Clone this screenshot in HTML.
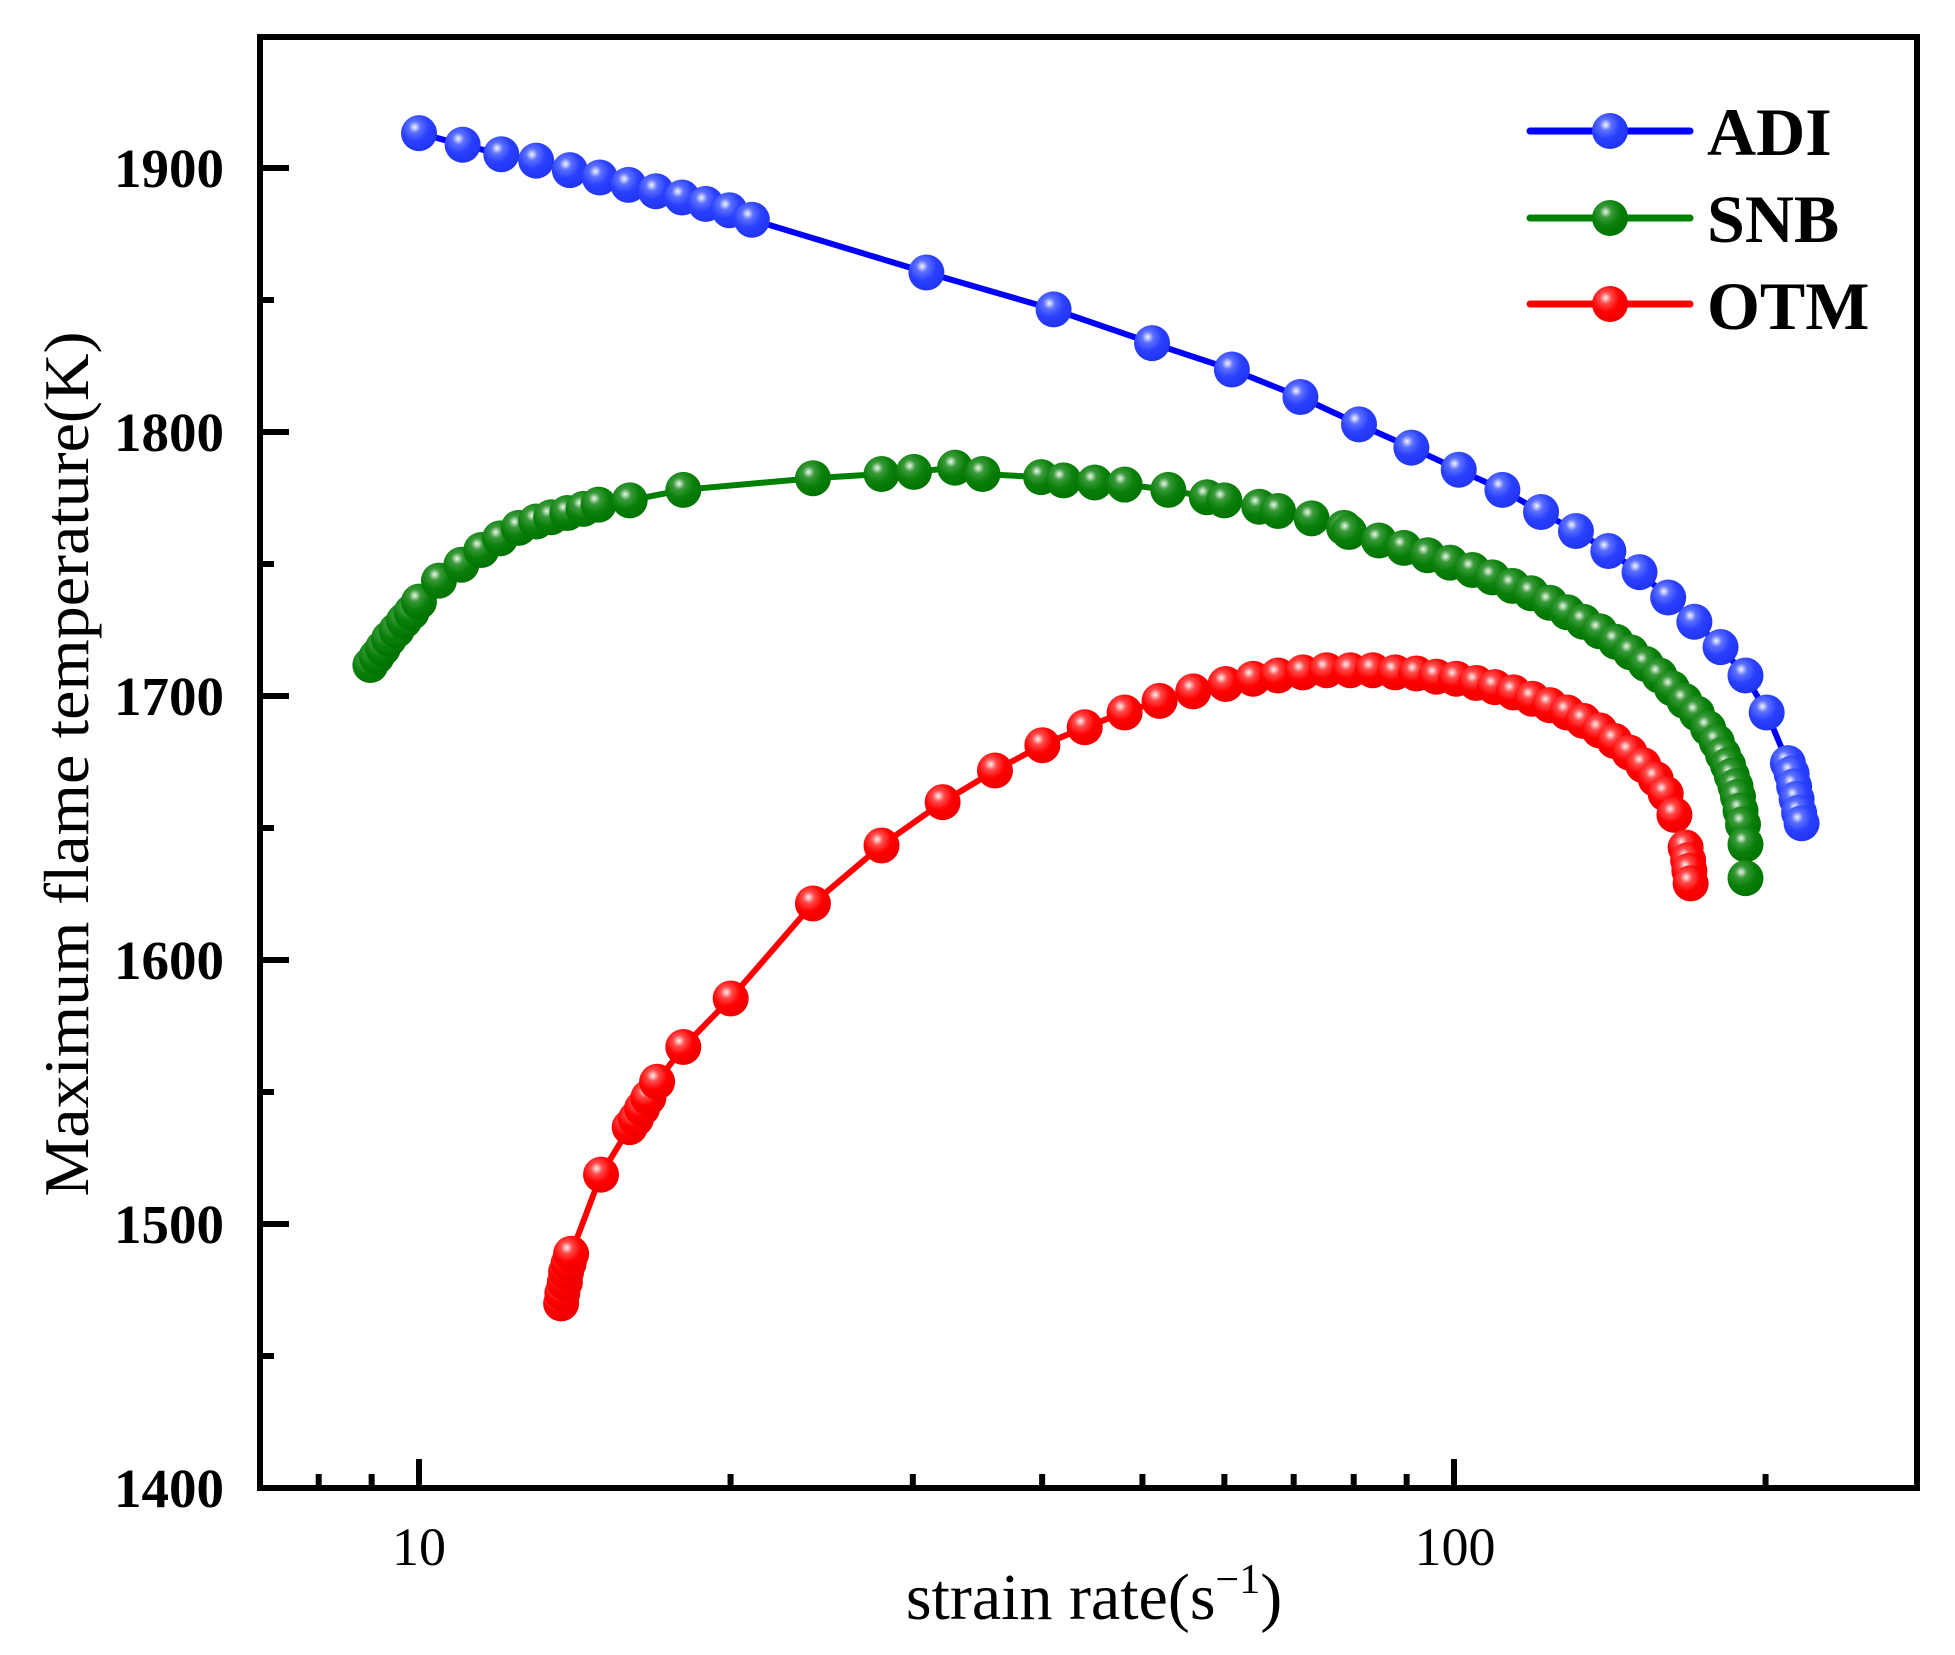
<!DOCTYPE html>
<html><head><meta charset="utf-8">
<style>
html,body{margin:0;padding:0;background:#fff;}
svg{display:block;}
text{font-family:"Liberation Serif","Times New Roman",serif;fill:#000;}
</style></head>
<body>
<svg id="s" width="1955" height="1655" viewBox="0 0 1955 1655" xmlns="http://www.w3.org/2000/svg">
<defs>
<radialGradient id="gb" cx="0.38" cy="0.33" r="0.65"><stop offset="0" stop-color="#f4f6ff"/><stop offset="0.25" stop-color="#5c70ff"/><stop offset="0.6" stop-color="#2a40ff"/><stop offset="1" stop-color="#2236f0"/></radialGradient>
<radialGradient id="gg" cx="0.38" cy="0.33" r="0.65"><stop offset="0" stop-color="#eef7ee"/><stop offset="0.25" stop-color="#3a9a3a"/><stop offset="0.6" stop-color="#0a800a"/><stop offset="1" stop-color="#007400"/></radialGradient>
<radialGradient id="gr" cx="0.38" cy="0.33" r="0.65"><stop offset="0" stop-color="#fff2f2"/><stop offset="0.25" stop-color="#ff4a4a"/><stop offset="0.6" stop-color="#ff0000"/><stop offset="1" stop-color="#f00000"/></radialGradient>
</defs>
<g id="plot"></g>
<rect x="260" y="37" width="1657" height="1451" fill="none" stroke="#000" stroke-width="6"/>
<g stroke="#000" stroke-width="6" id="ticks"></g>
<g font-weight="bold" font-size="55" text-anchor="end">
<text x="224" y="187">1900</text>
<text x="224" y="451">1800</text>
<text x="224" y="715">1700</text>
<text x="224" y="979">1600</text>
<text x="224" y="1243">1500</text>
<text x="224" y="1507">1400</text>
</g>
<g font-size="54" text-anchor="middle">
<text x="419" y="1565">10</text>
<text x="1455" y="1565">100</text>
</g>
<text x="1094" y="1619" font-size="66" text-anchor="middle">strain rate(s<tspan font-size="42" dy="-26">−1</tspan><tspan dy="26">)</tspan></text>
<text transform="translate(88,764) rotate(-90)" font-size="64" text-anchor="middle" textLength="865" lengthAdjust="spacingAndGlyphs">Maximum flame temperature(K)</text>
<g stroke-width="7" stroke-linecap="round">
<line x1="1530" y1="131" x2="1690" y2="131" stroke="#0000ff"/>
<line x1="1530" y1="218" x2="1690" y2="218" stroke="#008000"/>
<line x1="1530" y1="304" x2="1690" y2="304" stroke="#ff0000"/>
</g>
<circle cx="1610" cy="131" r="18" fill="url(#gb)"/>
<circle cx="1610" cy="218" r="18" fill="url(#gg)"/>
<circle cx="1610" cy="304" r="18" fill="url(#gr)"/>
<g font-weight="bold" font-size="68">
<text x="1707" y="155">ADI</text>
<text x="1707" y="242">SNB</text>
<text x="1707" y="329">OTM</text>
</g>
</svg>
<script>
(function(){
var NS="http://www.w3.org/2000/svg";
function mx(x){return 419+(x-336)*1.2467;}
function my(y){return 168+(y-159)*1.0552;}
var ADI=[[336,126],[371,137],[402,146],[430,152],[457,161],[481,168],[504,175],[526,181],[547,187],[566,193],[585,199],[603,208],[743,258],[845,293],[924,325],[988,350],[1043,376],[1090,402],[1132,424],[1170,445],[1205,464],[1236,485],[1264,503],[1290,522],[1315,542],[1338,566],[1359,589],[1380,613],[1400,640],[1417,675],[1434,723],[1437,733],[1439,745],[1441,757],[1443,770],[1445,780]];
var SNB=[[297,630],[302,622],[307,614],[312,605],[318,597],[324,588],[330,580],[336,570],[352,550],[370,535],[386,521],[401,510],[416,500],[430,494],[442,490],[455,486],[468,482],[480,478],[505,474],[548,464],[652,453],[707,449],[733,447],[766,443],[788,449],[835,452],[853,455],[878,457],[902,459],[937,464],[968,471],[982,474],[1010,480],[1025,484],[1052,491],[1078,500],[1082,504],[1106,512],[1126,519],[1145,526],[1163,533],[1181,540],[1197,547],[1213,555],[1228,562],[1243,571],[1257,580],[1270,589],[1283,598],[1296,608],[1308,618],[1320,629],[1331,640],[1341,652],[1351,664],[1361,676],[1370,690],[1377,703],[1382,715],[1386,725],[1389,735],[1392,745],[1394,755],[1396,768],[1398,781],[1400,800],[1400,832]];
var OTM=[[450,1235],[451,1225],[453,1215],[454,1205],[456,1197],[458,1188],[482,1113],[505,1068],[510,1060],[515,1050],[520,1040],[527,1025],[548,992],[586,946],[652,856],[707,801],[756,760],[798,730],[836,706],[870,689],[902,675],[930,664],[957,655],[983,648],[1005,643],[1025,640],[1045,637],[1064,635],[1083,635],[1101,635],[1119,637],[1136,638],[1152,641],[1168,643],[1184,647],[1199,651],[1214,656],[1229,662],[1243,668],[1257,675],[1270,683],[1283,692],[1295,702],[1307,713],[1318,725],[1328,738],[1336,752],[1343,772],[1352,803],[1354,815],[1355,825],[1356,837]];
var g=document.getElementById('plot');
function series(d,col,grad){
  var pts=d.map(function(p){return mx(p[0]).toFixed(1)+","+my(p[1]).toFixed(1);}).join(" ");
  var pl=document.createElementNS(NS,'polyline');
  pl.setAttribute('points',pts);pl.setAttribute('fill','none');pl.setAttribute('stroke',col);pl.setAttribute('stroke-width','6');
  g.appendChild(pl);
  d.forEach(function(p){var c=document.createElementNS(NS,'circle');c.setAttribute('cx',mx(p[0]));c.setAttribute('cy',my(p[1]));c.setAttribute('r','18');c.setAttribute('fill','url(#'+grad+')');g.appendChild(c);});
}
series(ADI,'#0000ff','gb');series(SNB,'#008000','gg');series(OTM,'#ff0000','gr');
var t=document.getElementById('ticks');
function ln(x1,y1,x2,y2){var l=document.createElementNS(NS,'line');l.setAttribute('x1',x1);l.setAttribute('y1',y1);l.setAttribute('x2',x2);l.setAttribute('y2',y2);t.appendChild(l);}
for(var T=1400;T<=1950;T+=50){var y=168+(1900-T)*2.64;if(y<40||y>1485)continue;ln(260,y,260+(T%100==0?29:14),y);}
var xs=[8,9,10,20,30,40,50,60,70,80,90,100,200];
xs.forEach(function(v){var x=419+1035*Math.log10(v/10);var maj=(v==10||v==100);ln(x,1488,x,1488-(maj?29:14));});
})();
</script>
</body></html>
